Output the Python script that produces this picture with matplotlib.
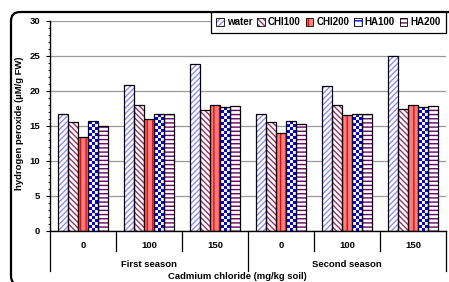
import numpy as np
import matplotlib
matplotlib.use("Agg")
import matplotlib.pyplot as plt
from matplotlib.patches import Patch, FancyBboxPatch
from matplotlib.colors import ListedColormap
from matplotlib.ticker import MultipleLocator
from matplotlib.transforms import IdentityTransform, blended_transform_factory

plt.rcParams['font.family'] = ['Liberation Sans', 'DejaVu Sans']
plt.rcParams['font.weight'] = 'bold'
plt.rcParams['hatch.linewidth'] = 1.0

# data
doses = ["0", "100", "150", "0", "100", "150"]
seasons = ["First season", "Second season"]
treatments = ["water", "CHI100", "CHI200", "HA100", "HA200"]
water = [16.7, 20.8, 23.8, 16.6, 20.6, 25.0]
chi100 = [15.5, 17.9, 17.3, 15.5, 17.9, 17.4]
chi200 = [13.4, 16.0, 18.0, 14.0, 16.5, 18.0]
ha100 = [15.6, 16.6, 17.6, 15.7, 16.6, 17.6]
ha200 = [15.0, 16.6, 17.8, 15.2, 16.6, 17.8]
series = [water, chi100, chi200, ha100, ha200]

# fill style per treatment: (face, hatch colour, hatch)
styles = [
    ("white", "#8c8cff", "//////"),
    ("white", "#993366", "\\\\\\\\\\\\"),
    ("#ff8080", "#ff0000", "|||"),
    ("white", "#0000ff", None),      # checkerboard, drawn below
    ("white", "#660066", "----"),
]
checker_cmap = ListedColormap(["white", "#0000ff"])
FS = 6.8

W, H = 449, 282
fig = plt.figure(figsize=(W / 100, H / 100), dpi=100)
ax = fig.add_axes([50 / W, 1 - 230.7 / H, 396 / W, 210 / H])

x = np.arange(len(doses))
bw = 0.152
for j, (vals, (face, hc, hatch)) in enumerate(zip(series, styles)):
    pos = x + (j - 2) * bw
    ax.bar(pos, vals, bw, color=face, edgecolor=hc, hatch=hatch, linewidth=0, zorder=2)
    bars = ax.bar(pos, vals, bw, fill=False, edgecolor="black", linewidth=0.9, zorder=3)
    if hatch is None:
        for b in bars:
            h = b.get_height()
            nrows = max(1, int(round(h / 0.43)))
            cells = np.add.outer(np.arange(nrows), np.arange(3)) % 2
            ax.imshow(cells, cmap=checker_cmap, extent=(b.get_x(), b.get_x() + b.get_width(), 0, h),
                      aspect="auto", interpolation="nearest", origin="lower", zorder=2.5)

ax.set_xlim(-0.5, len(doses) - 0.5)
ax.set_ylim(0, 30)
ax.yaxis.set_major_locator(MultipleLocator(5))
ax.yaxis.set_minor_locator(MultipleLocator(1))
ax.yaxis.grid(True, color="#999999", lw=0.9)
ax.set_axisbelow(True)
for s in ("top", "right"):
    ax.spines[s].set_visible(False)
for s in ("left", "bottom"):
    ax.spines[s].set_linewidth(1.0)
ax.tick_params(axis="y", which="major", length=3, width=0.8, labelsize=FS, pad=4)
ax.tick_params(axis="y", which="minor", length=1.5, width=0.6)
ax.set_xticks(x)
ax.set_xticklabels(doses)
ax.tick_params(axis="x", length=0, labelsize=FS, pad=7.5)

# multi-level category separators
tr = blended_transform_factory(ax.transData, ax.transAxes)
n_per = len(doses) // len(seasons)
for k in range(len(doses) + 1):
    edge = k - 0.5
    depth = 0.19 if k % n_per == 0 else 0.095
    ax.plot([edge, edge], [0, -depth], transform=tr, color="black", lw=0.9, clip_on=False)
for i, name in enumerate(seasons):
    ax.text(i * n_per + (n_per - 1) / 2, -34 / 210, name, transform=tr,
            ha="center", va="center", fontsize=FS)

fig.text(237.5 / W, 1 - 276.5 / H, "Cadmium chloride (mg/kg soil)", ha="center", va="center", fontsize=FS)
fig.text(20 / W, 1 - 123.5 / H, "hydrogen peroxide (\u00b5M/g FW)", rotation=90,
         ha="center", va="center", fontsize=FS)

handles = [(Patch(facecolor=f, edgecolor=hc, hatch=(h if h else "++"), linewidth=0),
            Patch(fill=False, edgecolor="black", linewidth=0.6)) for f, hc, h in styles]
leg = fig.legend(handles, treatments, loc="upper right", ncol=5,
                 bbox_to_anchor=(446 / W, 1 - 12 / H), bbox_transform=fig.transFigure,
                 fontsize=7, fancybox=False, edgecolor="black", framealpha=1,
                 handlelength=0.8, handleheight=0.8, handletextpad=0.3, columnspacing=0.5,
                 borderpad=0.55, borderaxespad=0)
leg.get_frame().set_linewidth(0.9)

# rounded chart-area border, running off the right and bottom edges
fig.patches.append(FancyBboxPatch((11, -3), 470, 273, boxstyle="round,pad=0,rounding_size=9",
                                  transform=IdentityTransform(), fill=False,
                                  edgecolor="black", linewidth=1.6))

fig.savefig("out.png", dpi=100)
